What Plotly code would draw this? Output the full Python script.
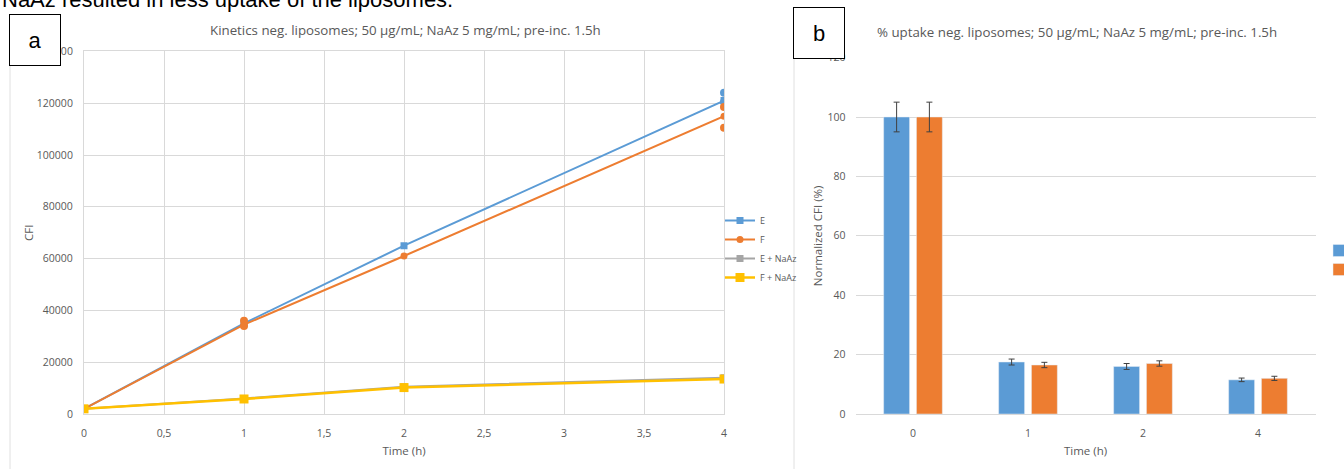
import plotly.graph_objects as go

W, H = 1344, 469

# ---------- Panel a data ----------
time_h = [0, 1, 2, 4]
E = [2000, 35000, 65000, 121000]
F = [2000, 34500, 61000, 115000]
E_NaAz = [2000, 6000, 10500, 14000]
F_NaAz = [2000, 5800, 10200, 13500]
# individual replicate points visible in the chart
E_rep_x = [4, 4]
E_rep_y = [124000, 120500]
F_rep_x = [1, 1, 4, 4]
F_rep_y = [36000, 34000, 118500, 110500]

x_tickvals = [0, 0.5, 1, 1.5, 2, 2.5, 3, 3.5, 4]
x_ticktext = ["0", "0,5", "1", "1,5", "2", "2,5", "3", "3,5", "4"]
y_tickvals = [0, 20000, 40000, 60000, 80000, 100000, 120000, 140000]

# ---------- Panel b data ----------
cats = ["0", "1", "2", "4"]
blue_pct = [100, 17.5, 16, 11.5]
blue_err = [5, 1, 1, 0.6]
orange_pct = [100, 16.5, 17, 12]
orange_err = [5, 0.9, 0.9, 0.7]

BLUE = "#5B9BD5"
ORANGE = "#ED7D31"
GRAY = "#A5A5A5"
YELLOW = "#FFC000"
TXT = "#595959"
GRID = "#D9D9D9"
FONT = "Open Sans, Liberation Sans, sans-serif"

def px_x(p):
    return p / W

def px_y(p):
    return 1 - p / H

fig = go.Figure()

# Panel a lines
fig.add_trace(go.Scatter(x=time_h, y=E, name="E", mode="lines+markers",
                         line=dict(color=BLUE, width=2),
                         marker=dict(symbol="square", size=7, color=BLUE),
                         xaxis="x", yaxis="y", legend="legend"))
fig.add_trace(go.Scatter(x=time_h, y=F, name="F", mode="lines+markers",
                         line=dict(color=ORANGE, width=2),
                         marker=dict(symbol="circle", size=7, color=ORANGE),
                         xaxis="x", yaxis="y", legend="legend"))
fig.add_trace(go.Scatter(x=time_h, y=E_NaAz, name="E + NaAz", mode="lines+markers",
                         line=dict(color=GRAY, width=2),
                         marker=dict(symbol="square", size=7, color=GRAY),
                         xaxis="x", yaxis="y", legend="legend"))
fig.add_trace(go.Scatter(x=time_h, y=F_NaAz, name="F + NaAz", mode="lines+markers",
                         line=dict(color=YELLOW, width=2.5),
                         marker=dict(symbol="square", size=9, color=YELLOW),
                         xaxis="x", yaxis="y", legend="legend"))
fig.add_trace(go.Scatter(x=E_rep_x, y=E_rep_y, mode="markers", showlegend=False,
                         marker=dict(symbol="circle", size=8, color=BLUE),
                         xaxis="x", yaxis="y"))
fig.add_trace(go.Scatter(x=F_rep_x, y=F_rep_y, mode="markers", showlegend=False,
                         marker=dict(symbol="circle", size=8, color=ORANGE),
                         xaxis="x", yaxis="y"))

# Panel b bars
fig.add_trace(go.Bar(x=cats, y=blue_pct, name="E", marker_color=BLUE,
                     error_y=dict(type="data", array=blue_err, color="#404040",
                                  thickness=1, width=3),
                     xaxis="x2", yaxis="y2", legend="legend2"))
fig.add_trace(go.Bar(x=cats, y=orange_pct, name="F", marker_color=ORANGE,
                     error_y=dict(type="data", array=orange_err, color="#404040",
                                  thickness=1, width=3),
                     xaxis="x2", yaxis="y2", legend="legend2"))

axis_font = dict(family=FONT, size=10.5, color=TXT)
title_font = dict(family=FONT, size=11.5, color=TXT)

fig.update_layout(
    width=W, height=H,
    margin=dict(l=0, r=0, t=0, b=0, autoexpand=False),
    paper_bgcolor="white", plot_bgcolor="white",
    font=dict(family=FONT, color=TXT),
    barmode="group", bargap=0.43, bargroupgap=0.21,
    xaxis=dict(domain=[px_x(84), px_x(724)], range=[0, 4],
               tickvals=x_tickvals, ticktext=x_ticktext,
               showgrid=True, gridcolor=GRID, gridwidth=1,
               showline=True, linecolor=GRID, zeroline=False,
               tickfont=axis_font, ticks="", ticklabelstandoff=9,
               title=dict(text="Time (h)", font=title_font, standoff=8),
               anchor="y", mirror=True),
    yaxis=dict(domain=[px_y(414), px_y(51.4)], range=[0, 140000],
               tickvals=y_tickvals, tickformat="d",
               showgrid=True, gridcolor=GRID, gridwidth=1,
               showline=True, linecolor=GRID, zeroline=False,
               tickfont=axis_font, ticks="", ticklabelstandoff=8,
               title=dict(text="CFI", font=title_font, standoff=0),
               anchor="x", mirror=True),
    xaxis2=dict(domain=[px_x(855.5), px_x(1315.5)],
                type="category", showgrid=False,
                showline=True, linecolor=GRID, zeroline=False,
                tickfont=axis_font, ticks="", ticklabelstandoff=9,
                title=dict(text="Time (h)", font=title_font, standoff=8),
                anchor="y2"),
    yaxis2=dict(domain=[px_y(414), px_y(57.6)], range=[0, 120],
                tickvals=[0, 20, 40, 60, 80, 100, 120],
                showgrid=True, gridcolor=GRID, gridwidth=1,
                showline=False, zeroline=False,
                tickfont=axis_font, ticks="", ticklabelstandoff=9,
                title=dict(text="Normalized CFI (%)", font=title_font, standoff=2),
                anchor="x2"),
    legend=dict(x=px_x(720), y=px_y(206), xanchor="left", yanchor="top",
                font=dict(family=FONT, size=9, color=TXT),
                bgcolor="rgba(0,0,0,0)", itemwidth=30, tracegroupgap=0),
    legend2=dict(x=px_x(1319), y=px_y(236), xanchor="left", yanchor="top",
                 font=dict(family=FONT, size=9, color=TXT),
                 bgcolor="rgba(0,0,0,0)"),
    shapes=[
        dict(type="line", xref="paper", yref="paper",
             x0=px_x(10), x1=px_x(10), y0=px_y(60), y1=0,
             line=dict(color="#E0E0E0", width=1)),
        dict(type="line", xref="paper", yref="paper",
             x0=px_x(794), x1=px_x(794), y0=px_y(55), y1=0,
             line=dict(color="#E0E0E0", width=1)),
    ],
    annotations=[
        dict(text="NaAz resulted in less uptake of the liposomes.", xref="paper", yref="paper",
             x=0, y=px_y(14), xanchor="left", yanchor="bottom", showarrow=False,
             font=dict(family="Liberation Sans, sans-serif", size=22, color="#000000")),
        dict(text="Kinetics neg. liposomes; 50 µg/mL; NaAz 5 mg/mL; pre-inc. 1.5h",
             xref="paper", yref="paper", x=px_x(405), y=px_y(30), xanchor="center", yanchor="middle",
             showarrow=False, font=dict(family=FONT, size=13.3, color=TXT)),
        dict(text="% uptake neg. liposomes; 50 µg/mL; NaAz 5 mg/mL; pre-inc. 1.5h",
             xref="paper", yref="paper", x=px_x(1077), y=px_y(32), xanchor="center", yanchor="middle",
             showarrow=False, font=dict(family=FONT, size=13.3, color=TXT)),
        dict(text="a", xref="paper", yref="paper", x=px_x(35), y=px_y(40),
             xanchor="center", yanchor="middle", showarrow=False,
             width=48, height=48, bgcolor="white", bordercolor="#000000", borderwidth=1,
             font=dict(family="Liberation Sans, sans-serif", size=22, color="#000000")),
        dict(text="b", xref="paper", yref="paper", x=px_x(819), y=px_y(33),
             xanchor="center", yanchor="middle", showarrow=False,
             width=48, height=48, bgcolor="white", bordercolor="#000000", borderwidth=1,
             font=dict(family="Liberation Sans, sans-serif", size=22, color="#000000")),
    ],
)

fig.write_html("out.html")
